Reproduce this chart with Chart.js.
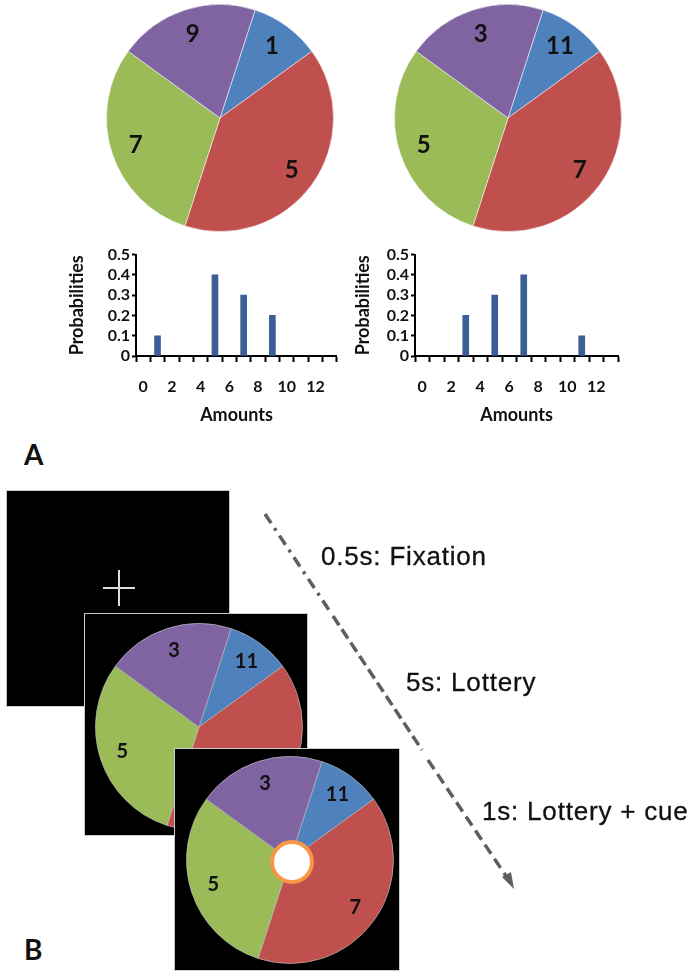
<!DOCTYPE html>
<html>
<head>
<meta charset="utf-8">
<script src="https://cdn.jsdelivr.net/npm/chart.js@4.4.1/dist/chart.umd.min.js"></script>
<style>
  body { margin: 0; background: #fff; width: 696px; height: 977px; position: relative; overflow: hidden; font-family: Lato, sans-serif; }
  canvas, .abs { position: absolute; }
  .screen { position: absolute; background: #000; border: 1px solid #c8c8c8; box-sizing: border-box; }
  .panel { position: absolute; font: bold 28px Lato; color: #111; }
  .step { position: absolute; font: 26px "Liberation Sans", Arial, sans-serif; letter-spacing: 0.8px; color: #111; white-space: nowrap; -webkit-text-stroke: 0.3px #111; }
  .cross-h { position: absolute; background: #ddd; height: 2px; width: 32px; }
  .cross-v { position: absolute; background: #ddd; width: 2px; height: 36px; }
  .cue { position: absolute; width: 36px; height: 36px; border-radius: 50%; background: #fff; border: 4px solid #F79646; }
</style>
</head>
<body>

<!-- panel A -->
<canvas id="pieA" width="228" height="228" style="left:106px;top:4px"></canvas>
<canvas id="pieB" width="228" height="228" style="left:394px;top:4px"></canvas>
<canvas id="barA" width="290" height="184" style="left:55px;top:243px"></canvas>
<canvas id="barB" width="290" height="184" style="left:350px;top:243px"></canvas>
<div class="panel" style="left:24px;top:437px">A</div>

<!-- panel B -->
<div class="screen" style="left:6px;top:490px;width:224px;height:217px">
  <div class="cross-h" style="left:96px;top:96px"></div>
  <div class="cross-v" style="left:111px;top:79px"></div>
</div>
<div class="screen" style="left:84px;top:613px;width:224px;height:223px">
  <canvas id="pieScreen1" width="208" height="208" style="left:10px;top:9px"></canvas>
</div>
<div class="screen" style="left:174px;top:748px;width:226px;height:223px">
  <canvas id="pieScreen2" width="208" height="208" style="left:11px;top:7px"></canvas>
  <div class="cue" style="left:95px;top:91px"></div>
</div>
<div class="panel" style="left:24px;top:932px">B</div>

<svg class="abs" style="left:0;top:0" width="696" height="977">
  <g stroke="#5e5e5e" stroke-width="3.5" fill="none">
    <line x1="265" y1="514" x2="331" y2="613" stroke-dasharray="11 6 3 6"/>
    <line x1="333" y1="616" x2="422" y2="750" stroke-dasharray="11 5"/>
    <line x1="428" y1="760" x2="506" y2="876" stroke-dasharray="11 6"/>
  </g>
  <polygon points="514,889 502,877 511,872" fill="#5e5e5e"/>
</svg>
<div class="step" style="left:321px;top:541px">0.5s: Fixation</div>
<div class="step" style="left:406px;top:667px">5s: Lottery</div>
<div class="step" style="left:482px;top:796px">1s: Lottery + cue</div>

<script>
// lottery amounts and their probabilities (slice order: blue, red, green, purple)
const sliceColors = ['#4F81BD', '#C0504D', '#9BBB59', '#8064A2']
const amountsA = [1, 5, 7, 9]
const amountsB = [11, 7, 5, 3]
const probsA = [0.1, 0.4, 0.3, 0.2]
const probsB = [0.1, 0.4, 0.3, 0.2]

// bar chart axes
const amountCategories = ['0', '1', '2', '3', '4', '5', '6', '7', '8', '9', '10', '11', '12', '13']
const amountTicks = ['0', '2', '4', '6', '8', '10', '12']
const probTicks = [0, 0.1, 0.2, 0.3, 0.4, 0.5]
const barColor = '#3B5E96'

const sliceLabels = {
  id: 'sliceLabels',
  afterDatasetsDraw(chart, args, opts) {
    const ctx = chart.ctx
    const meta = chart.getDatasetMeta(0)
    ctx.save()
    ctx.font = opts.font
    ctx.fillStyle = '#111'
    ctx.textAlign = 'center'
    ctx.textBaseline = 'middle'
    meta.data.forEach((arc, i) => {
      const p = arc.getProps(['x', 'y', 'startAngle', 'endAngle', 'outerRadius'])
      const mid = (p.startAngle + p.endAngle) / 2
      const r = p.outerRadius * opts.dist
      ctx.fillText(String(opts.labels[i]), p.x + Math.cos(mid) * r, p.y + Math.sin(mid) * r)
    })
    ctx.restore()
  }
}

function buildPie(id, amounts, probs, font, border) {
  new Chart(document.getElementById(id), {
    type: 'pie',
    data: {
      labels: amounts.map(String),
      datasets: [{
        data: probs,
        backgroundColor: sliceColors,
        borderColor: border,
        borderWidth: 1,
        hoverOffset: 0
      }]
    },
    options: {
      responsive: false,
      animation: false,
      rotation: 18,
      events: [],
      plugins: {
        legend: { display: false },
        tooltip: { enabled: false },
        sliceLabels: { labels: amounts, font: font, dist: 0.78 }
      }
    },
    plugins: [sliceLabels]
  })
}

function buildBars(id, amounts, probs, yWidth, titlePad, padRight) {
  const values = amountCategories.map(c => {
    const k = amounts.indexOf(Number(c))
    return k >= 0 ? probs[k] : null
  })
  const tickFont = { family: 'Lato', weight: 'bold', size: 16 }
  const titleFont = { family: 'Lato', weight: 'bold', size: 18 }

  new Chart(document.getElementById(id), {
    type: 'bar',
    data: {
      labels: amountCategories,
      datasets: [{ data: values, backgroundColor: barColor, barThickness: 6 }]
    },
    options: {
      responsive: false,
      animation: false,
      events: [],
      layout: { padding: { top: 10, right: padRight, left: 0, bottom: 0 } },
      plugins: { legend: { display: false }, tooltip: { enabled: false } },
      scales: {
        x: {
          offset: true,
          grid: { offset: true, drawOnChartArea: false, tickLength: 6, tickColor: '#000', tickWidth: 2 },
          border: { color: '#000', width: 2 },
          ticks: {
            autoSkip: false, maxRotation: 0, padding: 15, color: '#111', font: tickFont,
            callback: (v, i) => amountTicks.includes(amountCategories[i]) ? amountCategories[i] : ''
          },
          title: { display: true, text: 'Amounts', color: '#111', font: titleFont, padding: { top: 0, bottom: 1 } },
          afterFit: s => { s.height = 71 }
        },
        y: {
          min: probTicks[0],
          max: probTicks[probTicks.length - 1],
          afterBuildTicks: s => { s.ticks = probTicks.map(v => ({ value: v })) },
          grid: { drawOnChartArea: false, tickLength: 4, tickColor: '#000', tickWidth: 2 },
          border: { color: '#000', width: 2 },
          ticks: { autoSkip: false, padding: 2, color: '#111', font: tickFont, callback: v => String(v) },
          title: { display: true, text: 'Probabilities', color: '#111', font: titleFont, padding: { top: titlePad, bottom: 0 } },
          afterFit: s => { s.width = yWidth }
        }
      }
    }
  })
}

buildPie('pieA', amountsA, probsA, 'bold 24px Lato', 'rgba(255,255,255,0.5)')
buildPie('pieB', amountsB, probsB, 'bold 24px Lato', 'rgba(255,255,255,0.5)')
buildBars('barA', amountsA, probsA, 81, 11, 6)
buildBars('barB', amountsB, probsB, 65, 2, 22)
buildPie('pieScreen1', amountsB, probsB, 'bold 20px Lato', 'rgba(200,200,200,0.6)')
buildPie('pieScreen2', amountsB, probsB, 'bold 20px Lato', 'rgba(200,200,200,0.6)')
</script>
</body>
</html>
